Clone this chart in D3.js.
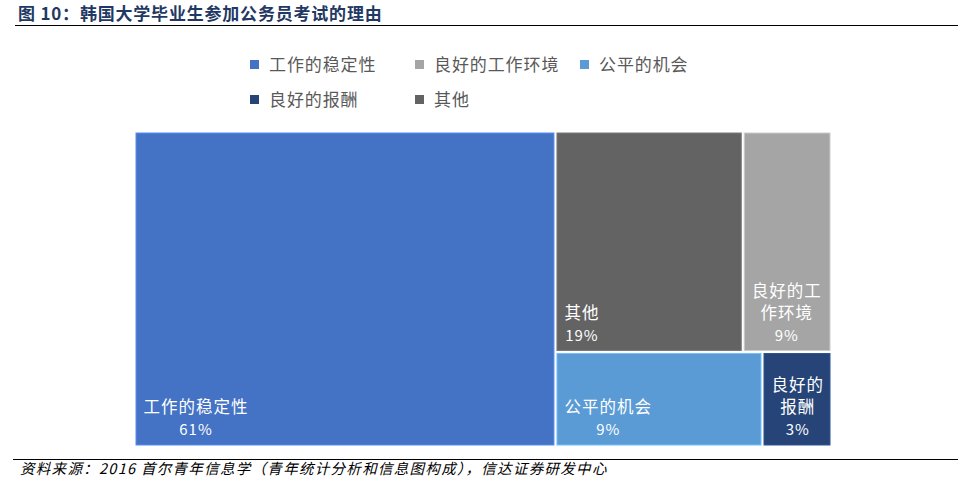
<!DOCTYPE html>
<html><head><meta charset="utf-8">
<script src="https://cdn.jsdelivr.net/npm/d3@7"></script>
<style>body{margin:0;background:#fff}svg{display:block}</style>
</head><body>
<svg id="c" width="966" height="484"></svg>
<script>
// Data (treemap order)
const categories = ["工作的稳定性", "其他", "良好的工作环境", "公平的机会", "良好的报酬"];
const values = [61, 19, 9, 9, 3];
const colors = ["#4472C4", "#636363", "#A5A5A5", "#5B9BD5", "#264478"];
const legendOrder = ["工作的稳定性", "良好的工作环境", "公平的机会", "良好的报酬", "其他"];

const svg = d3.select("#c");
const font = "'Noto Sans CJK SC', 'Noto Sans', sans-serif";

// Title
svg.append("text").attr("x", 18).attr("y", 20)
  .attr("font-family", font).attr("font-weight", "bold").attr("font-size", 17)
  .attr("letter-spacing", 0.8)
  .attr("fill", "#1F3864").text("图 10：韩国大学毕业生参加公务员考试的理由");
svg.append("line").attr("x1", 15).attr("x2", 958).attr("y1", 25.5).attr("y2", 25.5)
  .attr("stroke", "#000").attr("stroke-width", 1.2);

// Footer
svg.append("line").attr("x1", 13).attr("x2", 958).attr("y1", 459.5).attr("y2", 459.5)
  .attr("stroke", "#000").attr("stroke-width", 1.2);
svg.append("text").attr("x", 20).attr("y", 474)
  .attr("font-family", font).attr("font-style", "italic").attr("font-size", 14.5)
  .attr("letter-spacing", 1.3)
  .attr("fill", "#000").text("资料来源：2016 首尔青年信息学（青年统计分析和信息图构成），信达证券研发中心");

// Legend
const colorOf = d3.scaleOrdinal().domain(categories).range(colors);
const legPos = [[250, 65], [415, 65], [580, 65], [250, 100], [415, 100]];
legendOrder.forEach((name, i) => {
  const [lx, ly] = legPos[i];
  svg.append("rect").attr("x", lx).attr("y", ly - 5).attr("width", 9).attr("height", 9)
    .attr("fill", colorOf(name));
  svg.append("text").attr("x", lx + 19).attr("y", ly + 6)
    .attr("font-family", font).attr("font-size", 17).attr("letter-spacing", 0.9)
    .attr("fill", "#595959").text(name);
});

// Treemap
const root = d3.hierarchy({children: categories.map((c, i) => ({name: c, value: values[i]}))})
  .sum(d => d.value || 0);
d3.treemap().tile(d3.treemapSquarify).size([694, 312]).paddingInner(3)(root);

const g = svg.append("g").attr("transform", "translate(136,133)");
const leaves = root.leaves();
const cell = g.selectAll("g.cell").data(leaves).join("g").attr("class", "cell");
cell.append("rect")
  .attr("x", d => d.x0).attr("y", d => d.y0)
  .attr("width", d => d.x1 - d.x0).attr("height", d => d.y1 - d.y0)
  .attr("fill", d => colorOf(d.data.name))
  .attr("stroke", d => d3.color(colorOf(d.data.name)).brighter(0.6))
  .attr("stroke-width", 1);

const fs = 16.5, ls = 1, cw = fs + ls, lh = 22;
cell.each(function(d) {
  const sel = d3.select(this);
  const w = d.x1 - d.x0 - 10;
  const perLine = Math.max(1, Math.floor(w / cw));
  const name = d.data.name;
  const lines = [];
  for (let i = 0; i < name.length; i += perLine) lines.push(name.slice(i, i + perLine));
  lines.push(d.data.value + "%");
  const blockW = Math.max(...lines.slice(0, -1).map(l => l.length * cw));
  const cx = d.x0 + 7 + blockW / 2;
  const lastBase = d.y1 - 10;
  lines.forEach((l, i) => {
    sel.append("text").attr("x", cx + ls / 2).attr("y", lastBase - (lines.length - 1 - i) * lh)
      .attr("text-anchor", "middle").attr("font-family", font).attr("font-size", i === lines.length - 1 ? 15 : fs)
      .attr("letter-spacing", ls)
      .attr("fill", "#fff").text(l);
  });
});
</script>
</body></html>
